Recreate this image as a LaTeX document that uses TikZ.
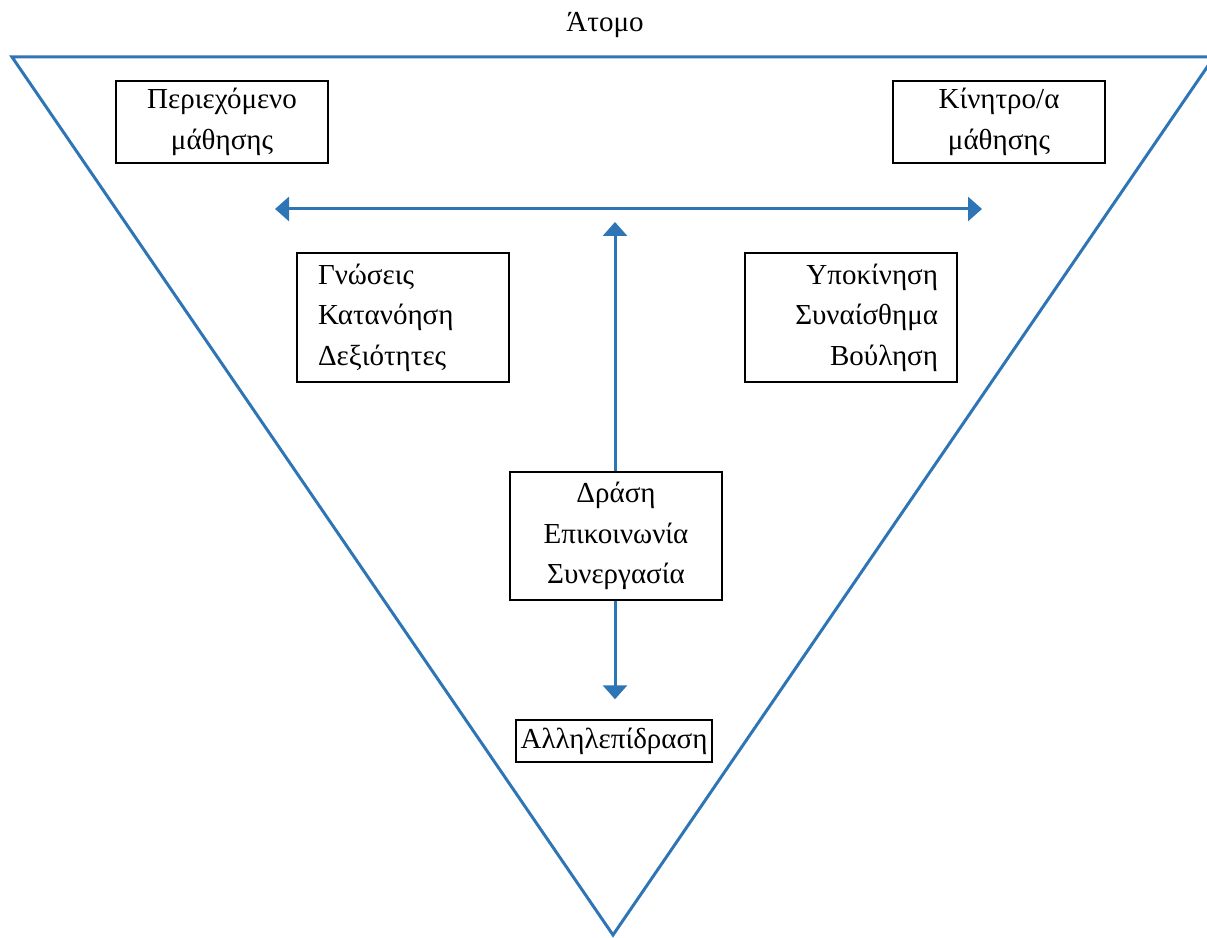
\documentclass[tikz,border=0pt]{standalone}
\usepackage{fontspec}
\setmainfont{Liberation Serif}
\usepackage{tikz}
\usetikzlibrary{arrows.meta}
\definecolor{lineblue}{RGB}{46,117,182}
\tikzset{
    every node/.style={font=\fontsize{16.5}{23}\selectfont}
}
\tikzset{
    box/.style={draw, line width=0.8pt, minimum width=4.24cm, inner sep=0pt},
    flow/.style={draw=lineblue, line width=1.7pt, -{Triangle[length=0.28cm, width=0.48cm]}}
}

\begin{document}
\begin{tikzpicture}
	\useasboundingbox (0,0) rectangle (24.14cm, 18.74cm);
	\draw [lineblue, line width=1.7pt, line join=miter] (0.24cm, 17.6cm) -- (24.28cm, 17.6cm) -- (12.26cm, 0.04cm) -- cycle;
	\node (atom) at (12.1cm, 18.24cm) {Άτομο};
	
	\node (content) [box, minimum height=1.64cm, align=center] at (4.44cm, 16.3cm) {Περιεχόμενο\\μάθησης};
	\node (motive) [box, minimum height=1.64cm, align=center] at (19.98cm, 16.3cm) {Κίνητρο/α\\μάθησης};
	\node (know) [box, minimum height=2.58cm, inner xsep=0.42cm, text width=3.4cm, align=left] at (8.06cm, 12.39cm) {Γνώσεις\\Κατανόηση\\Δεξιότητες};
	\node (feel) [box, minimum height=2.58cm, inner xsep=0.38cm, text width=3.48cm, align=right] at (17.02cm, 12.39cm) {Υποκίνηση\\Συναίσθημα\\Βούληση};
	\node (act) [box, minimum height=2.56cm, align=center] at (12.32cm, 8.02cm) {Δράση\\Επικοινωνία\\Συνεργασία};
	\node (inter) [draw, line width=0.8pt, minimum width=3.92cm, minimum height=0.84cm, inner sep=0pt] at (12.28cm, 3.92cm) {Αλληλεπίδραση};
	
	\coordinate (left) at (5.5cm, 14.56cm);
	\coordinate (right) at (19.64cm, 14.56cm);
	\coordinate (up) at (12.3cm, 14.3cm);
	
	\draw [flow, {Triangle[length=0.28cm, width=0.48cm]}-{Triangle[length=0.28cm, width=0.48cm]}] (left) -- (right);
	\draw [flow] (act.north -| up) -- (up);
	\draw [flow, shorten >=0.4cm] (act.south -| up) -- (inter.north -| up);
\end{tikzpicture}
\end{document}
